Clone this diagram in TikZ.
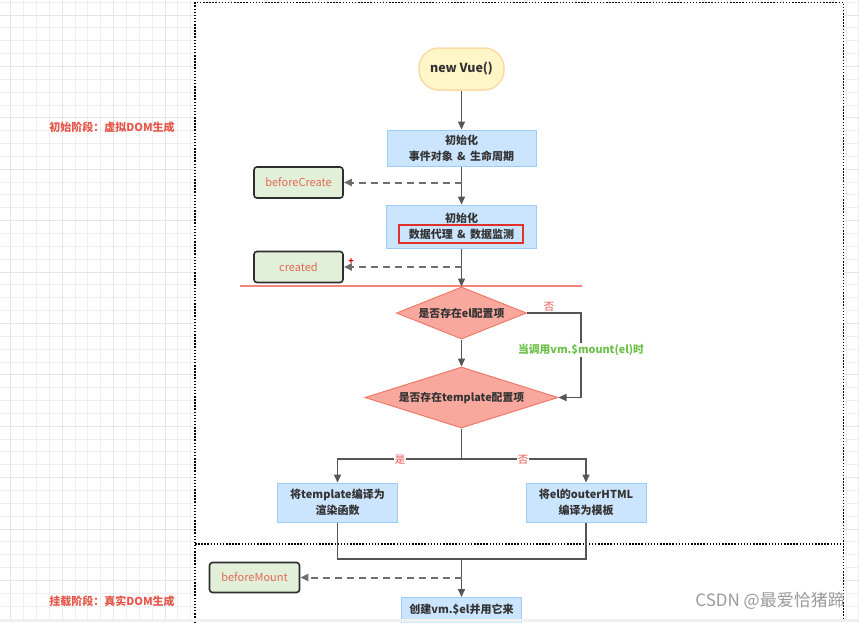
\documentclass[tikz,border=0pt]{standalone}
\usepackage{fontspec}
\setmainfont{Noto Sans CJK SC}
\usetikzlibrary{shapes.geometric,arrows.meta}
\definecolor{gridc}{HTML}{EEEEEE}
\definecolor{gridm}{HTML}{E5E5E5}
\definecolor{procfill}{HTML}{CCE5FF}
\definecolor{procdraw}{HTML}{9FCBF7}
\definecolor{hookfill}{HTML}{E2F0D9}
\definecolor{hookdraw}{HTML}{2E2E2E}
\definecolor{hooktext}{HTML}{E06A55}
\definecolor{decfill}{HTML}{F8A89C}
\definecolor{decdraw}{HTML}{F2786A}
\definecolor{redlab}{HTML}{E5574A}
\definecolor{greenlab}{HTML}{6CC04A}
\definecolor{arrc}{HTML}{555555}
\definecolor{vuefill}{HTML}{FFF6C8}
\definecolor{vuedraw}{HTML}{FDD9A8}
\definecolor{wmark}{HTML}{9A9A9A}
\definecolor{hlred}{HTML}{E0302A}
\tikzset{
  proc/.style={rectangle, fill=procfill, draw=procdraw, line width=1pt, text=black!80,
    font=\bfseries\fontsize{11}{16}\selectfont, align=center, inner sep=0pt},
  hook/.style={rectangle, rounded corners=3pt, fill=hookfill, draw=hookdraw, line width=1.6pt,
    text=hooktext, font=\fontsize{11}{13}\selectfont, minimum width=89pt, minimum height=31pt, inner sep=0pt},
  dec/.style={diamond, fill=decfill, draw=decdraw, line width=1pt, text=black!80,
    font=\bfseries\fontsize{10.8}{12}\selectfont, inner sep=0pt},
  arr/.style={draw=arrc, line width=1.5pt, -{Triangle[length=8pt,width=7pt]}},
  plainline/.style={draw=arrc, line width=1.5pt},
  dasharr/.style={draw=arrc!85, line width=2pt, dash pattern=on 7pt off 5pt, -{Triangle[length=8pt,width=7pt]}},
  dotbox/.style={draw=black, line width=1.5pt, dash pattern=on 1.5pt off 1.6pt},
  phase/.style={text=redlab, font=\bfseries\fontsize{11}{13}\selectfont},
  yesno/.style={text=redlab, font=\fontsize{10.5}{12}\selectfont, fill=white, inner sep=1pt},
}
\begin{document}
\begin{tikzpicture}[x=1pt,y=-1pt]
\useasboundingbox (0,0) rectangle (859,622);
\clip (0,0) rectangle (859,622);
% background grid
\fill[white] (0,0) rectangle (859,622);
\foreach \i in {0,...,66} {
  \draw[gridc, line width=0.8pt] ({10.7+12.85*\i},0) -- ({10.7+12.85*\i},622);
}
\foreach \i in {0,...,48} {
  \draw[gridc, line width=0.8pt] (0,{2.1+12.85*\i}) -- (859,{2.1+12.85*\i});
}
\foreach \i in {0,...,17} {
  \draw[gridm, line width=0.8pt] ({10.7+51.4*\i},0) -- ({10.7+51.4*\i},622);
}
\foreach \i in {0,...,12} {
  \draw[gridm, line width=0.8pt] (0,{14.95+51.4*\i}) -- (859,{14.95+51.4*\i});
}
\fill[white] (195,2) rectangle (843.5,630);
% dotted frames
\draw[dotbox] (195,630) -- (195,2.5) -- (843.5,2.5) -- (843.5,630);
\draw[dotbox] (195,544) -- (843.5,544);

% phase labels
\node[phase] (ph1) at (112,127) {初始阶段：虚拟DOM生成};
\node[phase] (ph2) at (112,601) {挂载阶段：真实DOM生成};

% nodes
\node[rectangle, rounded corners=20pt, fill=vuefill, draw=vuedraw, line width=1.5pt,
  minimum width=85pt, minimum height=42pt, font=\bfseries\fontsize{12.5}{14}\selectfont, text=black!80] (vue) at (461.5,69) {new Vue()};
\node[proc, minimum width=149pt, minimum height=36pt] (b1) at (461.5,148) {初始化\\事件对象 \,\&\, 生命周期};
\node[hook] (bc) at (298.5,182.5) {beforeCreate};
\node[proc, minimum width=150pt, minimum height=43pt] (b2) at (461.5,226.5) {初始化\\数据代理 \,\&\, 数据监测};
\node[draw=hlred, line width=1.2pt, minimum width=124pt, minimum height=18pt, inner sep=0pt] (hl) at (461,234) {};
\node[hook] (cr) at (298.5,267) {created};
\node[text=red!85!black, font=\bfseries\fontsize{9}{9}\selectfont, inner sep=0pt] (plus) at (351,262) {+};

\draw[draw=decdraw!90, line width=1.2pt] (240,286) coordinate (rl1) -- (582,286) coordinate (rl2);

\node[dec, minimum width=130pt, minimum height=52pt, aspect=2.5] (d1) at (461.5,313) {是否存在el配置项};
\node[dec, minimum width=193pt, minimum height=61pt, aspect=3.16] (d2) at (461.5,397.5) {是否存在template配置项};

\node[proc, minimum width=120pt, minimum height=39pt] (lt) at (337.5,502.5) {将template编译为\\渲染函数};
\node[proc, minimum width=120pt, minimum height=39pt] (rt) at (586,502.5) {将el的outerHTML\\编译为模板};
\node[hook, minimum width=90pt, minimum height=30pt] (bm) at (254.5,577.5) {beforeMount};
\node[proc, minimum width=120pt, minimum height=44pt, anchor=north] (bot) at (461.5,597) {};
\node[font=\bfseries\fontsize{11}{13}\selectfont, text=black!80, inner sep=0pt] (bottxt) at (461.5,609.5) {创建vm.\$el并用它来};

% connectors
\draw[arr] (vue.south) -- (b1.north);
\draw[arr] (b1.south) -- (b2.north);
\coordinate (j1) at (461.5,182.5);
\draw[dasharr] (j1) -- (bc.east);
\draw[arr] (b2.south) -- (d1.north);
\coordinate (j2) at (461.5,267);
\draw[dasharr] (j2) -- (cr.east);
\draw[arr] (d1.south) -- (d2.north);
\coordinate (elr) at (581,313);
\draw[arr] (d1.east) -- (elr) |- (d2.east);
\node[yesno, fill=none] (no1) at (549,307) {否};
\node[text=greenlab, font=\bfseries\fontsize{10.8}{12}\selectfont, fill=white, inner sep=1pt] (mnt) at (581,350) {当调用vm.\$mount(el)时};
\coordinate (split) at (461.5,459);
\draw[plainline] (d2.south) -- (split);
\draw[arr] (split) -| (lt.north);
\draw[arr] (split) -| (rt.north);
\node[yesno] (yes2) at (400,459.5) {是};
\node[yesno] (no2) at (523,459.5) {否};
\coordinate (merge) at (461.5,559);
\draw[plainline] (lt.south) |- (merge);
\draw[plainline] (rt.south) |- (merge);
\draw[arr] (merge) -- (bot.north);
\coordinate (j3) at (461.5,577.5);
\draw[dasharr] (j3) -- (bm.east);

% watermark
\node[text=wmark, font=\fontsize{17}{19}\selectfont, anchor=east, inner sep=0pt] (wm) at (845,601) {CSDN @最爱恰猪蹄};

% bottom strip
\fill[gray!12] (0,619) rectangle (859,622);
\end{tikzpicture}
\end{document}
